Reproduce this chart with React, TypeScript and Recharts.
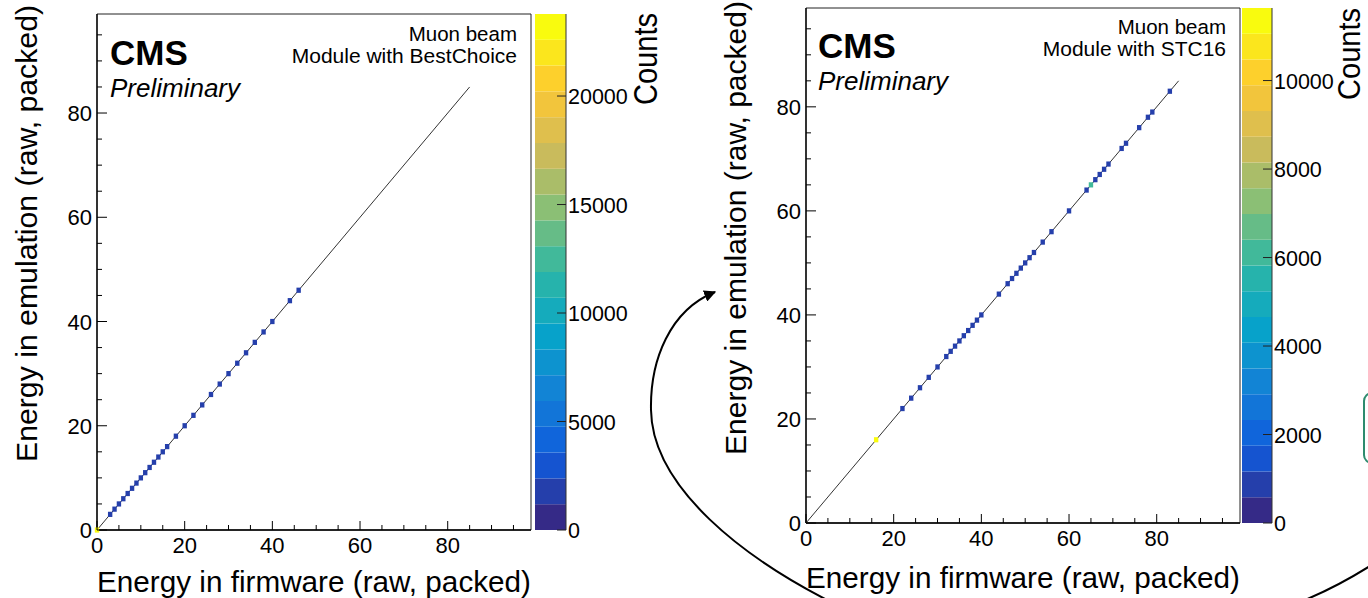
import React from 'react';
import { ScatterChart, Scatter, XAxis, YAxis, BarChart, Bar, ReferenceArea } from 'recharts';

const FONT = '"Liberation Sans", Arial, Helvetica, sans-serif';

// ---------- data ----------
// Left panel: module with BestChoice
const bcFirmware = [0, 3, 4, 5, 6, 7, 8, 9, 10, 11, 12, 13, 14, 15, 16, 18, 20, 22, 24, 26, 28, 30, 32, 34, 36, 38, 40, 44, 46];
const bcEmulation = [0, 3, 4, 5, 6, 7, 8, 9, 10, 11, 12, 13, 14, 15, 16, 18, 20, 22, 24, 26, 28, 30, 32, 34, 36, 38, 40, 44, 46];
const bcCounts = [23780, 1500, 1620, 1580, 1710, 1480, 1650, 1530, 1600, 1700, 1450, 1560, 1640, 1510, 1590, 1470, 1680, 1520, 1610, 1490, 1570, 1660, 1540, 1500, 1630, 1480, 1550, 1400, 1350];

// Right panel: module with STC16
const stcFirmware = [16, 22, 24, 26, 28, 30, 32, 33, 34, 35, 36, 37, 38, 39, 40, 44, 46, 47, 48, 49, 50, 51, 52, 54, 56, 60, 64, 65, 66, 67, 68, 69, 72, 73, 76, 78, 79, 83];
const stcEmulation = [16, 22, 24, 26, 28, 30, 32, 33, 34, 35, 36, 37, 38, 39, 40, 44, 46, 47, 48, 49, 50, 51, 52, 54, 56, 60, 64, 65, 66, 67, 68, 69, 72, 73, 76, 78, 79, 83];
const stcCounts = [11640, 880, 910, 860, 900, 940, 870, 920, 850, 890, 930, 860, 900, 880, 950, 870, 910, 890, 860, 920, 880, 900, 940, 870, 910, 890, 850, 6100, 900, 880, 920, 860, 890, 910, 870, 930, 880, 900];

// diagonal reference line
const diagFirmware = [0, 85];
const diagEmulation = [0, 85];

// ticks
const axisTicks = [0, 5, 10, 15, 20, 25, 30, 35, 40, 45, 50, 55, 60, 65, 70, 75, 80, 85, 90, 95];
const bcZTicks = [0, 5000, 10000, 15000, 20000];
const stcZTicks = [0, 2000, 4000, 6000, 8000, 10000];
const BC_ZMAX = 23780;
const STC_ZMAX = 11640;
const AXIS_MAX = 99;
const N_BANDS = 20;

// ROOT kBird palette
const BIRD_STOPS = [0.0, 0.125, 0.25, 0.375, 0.5, 0.625, 0.75, 0.875, 1.0];
const BIRD_R = [0.2082, 0.0592, 0.078, 0.0232, 0.1802, 0.5301, 0.8186, 0.9956, 0.9764];
const BIRD_G = [0.1664, 0.3599, 0.5041, 0.6419, 0.7178, 0.7492, 0.7328, 0.7862, 0.9832];
const BIRD_B = [0.5293, 0.8684, 0.8385, 0.7914, 0.6425, 0.4662, 0.3499, 0.1968, 0.0539];

function bird(t: number) {
  let k = 0;
  while (k < BIRD_STOPS.length - 2 && t > BIRD_STOPS[k + 1]) k++;
  const f = (t - BIRD_STOPS[k]) / (BIRD_STOPS[k + 1] - BIRD_STOPS[k]);
  const c = (a: number[]) => Math.round(255 * (a[k] + f * (a[k + 1] - a[k])));
  return `rgb(${c(BIRD_R)},${c(BIRD_G)},${c(BIRD_B)})`;
}
const BAND_COLORS = Array.from({ length: N_BANDS }, (_, i) => bird(i / (N_BANDS - 1)));
function countColor(c: number, zmax: number) {
  return BAND_COLORS[Math.min(N_BANDS - 1, Math.floor((c / zmax) * N_BANDS))];
}

// ---------- tick renderers ----------
function XTick(props: any) {
  const { x, y, payload } = props;
  const v = payload.value;
  const major = v % 20 === 0;
  return (
    <g>
      <line x1={x} x2={x} y1={y} y2={y - (major ? 9 : 5)} stroke="#000" strokeWidth={1} />
      {major && (
        <text x={x} y={y + 23} textAnchor="middle" fontSize={22} fontFamily={FONT} fill="#000">
          {v}
        </text>
      )}
    </g>
  );
}

function YTick(props: any) {
  const { x, y, payload } = props;
  const v = payload.value;
  const major = v % 20 === 0;
  return (
    <g>
      <line x1={x} x2={x + (major ? 10 : 5)} y1={y} y2={y} stroke="#000" strokeWidth={1} />
      {major && (
        <text x={x - 5} y={y + 8} textAnchor="end" fontSize={22} fontFamily={FONT} fill="#000">
          {v}
        </text>
      )}
    </g>
  );
}

function ZTick(props: any) {
  const { x, y, payload } = props;
  return (
    <g>
      <line x1={x - 9} x2={x} y1={y} y2={y} stroke="#222" strokeWidth={1} />
      <text x={x + 2} y={y + 8} textAnchor="start" fontSize={21.5} fontFamily={FONT} fill="#000">
        {payload.value}
      </text>
    </g>
  );
}

// ---------- panels ----------
type Layout = {
  chartLeft: number;
  chartWidth: number;
  yAxisWidth: number;
  marginTop: number;
  marginRight: number;
  xAxisHeight: number;
  barLeft: number;
  barWidth: number;
  barAreaWidth: number;
};

function Hist2D({ layout, xs, ys, counts, zmax }: { layout: Layout; xs: number[]; ys: number[]; counts: number[]; zmax: number }) {
  const H = 598;
  const plotW = layout.chartWidth - layout.yAxisWidth - layout.marginRight;
  const plotH = H - layout.marginTop - layout.xAxisHeight;
  const bw = plotW / AXIS_MAX;
  const bh = plotH / AXIS_MAX;
  const points = xs.map((x, i) => ({ x, y: ys[i], count: counts[i] }));
  const diag = diagFirmware.map((x, i) => ({ x, y: diagEmulation[i] }));
  const bins = (p: any) => (
    <rect x={p.cx - bw / 2} y={p.cy - bh / 2} width={bw} height={bh} fill={countColor(p.payload.count, zmax)} />
  );
  return (
    <div style={{ position: 'absolute', left: layout.chartLeft, top: 0 }}>
      <ScatterChart
        width={layout.chartWidth}
        height={H}
        margin={{ top: layout.marginTop, right: layout.marginRight, bottom: 0, left: 0 }}
      >
        <XAxis
          type="number"
          dataKey="x"
          domain={[0, AXIS_MAX]}
          ticks={axisTicks}
          interval={0}
          height={layout.xAxisHeight}
          tickSize={0}
          tickMargin={0}
          tickLine={false}
          tick={<XTick />}
          axisLine={{ stroke: '#000', strokeWidth: 1.3 }}
        />
        <YAxis
          type="number"
          dataKey="y"
          domain={[0, AXIS_MAX]}
          ticks={axisTicks}
          interval={0}
          width={layout.yAxisWidth}
          tickSize={0}
          tickMargin={0}
          tickLine={false}
          tick={<YTick />}
          axisLine={{ stroke: '#000', strokeWidth: 1.3 }}
        />
        <ReferenceArea x1={0} x2={AXIS_MAX} y1={0} y2={AXIS_MAX} fill="none" stroke="#222" strokeWidth={1} />
        <Scatter data={diag} line={{ stroke: '#333', strokeWidth: 1 }} shape={() => <g />} isAnimationActive={false} />
        <Scatter data={points} shape={bins} isAnimationActive={false} />
      </ScatterChart>
    </div>
  );
}

function ColorBar({ layout, zmax, zticks }: { layout: Layout; zmax: number; zticks: number[] }) {
  const row: any = { name: 'z' };
  BAND_COLORS.forEach((_, i) => {
    row[`b${i}`] = zmax / N_BANDS;
  });
  return (
    <div style={{ position: 'absolute', left: layout.barLeft, top: 0 }}>
      <BarChart
        width={layout.barAreaWidth}
        height={598}
        data={[row]}
        barCategoryGap={0}
        margin={{ top: layout.marginTop, right: 0, bottom: layout.xAxisHeight, left: 0 }}
      >
        <XAxis dataKey="name" hide />
        <YAxis
          orientation="right"
          type="number"
          domain={[0, zmax]}
          ticks={zticks}
          interval={0}
          width={layout.barAreaWidth - layout.barWidth}
          tickSize={0}
          tickMargin={0}
          tickLine={false}
          tick={<ZTick />}
          axisLine={{ stroke: '#333', strokeWidth: 1 }}
        />
        {BAND_COLORS.map((c, i) => (
          <Bar key={i} dataKey={`b${i}`} stackId="z" fill={c} isAnimationActive={false} />
        ))}
      </BarChart>
    </div>
  );
}

const leftLayout: Layout = {
  chartLeft: 0,
  chartWidth: 540,
  yAxisWidth: 97,
  marginTop: 14,
  marginRight: 9,
  xAxisHeight: 68,
  barLeft: 535,
  barWidth: 31,
  barAreaWidth: 120,
};
const rightLayout: Layout = {
  chartLeft: 700,
  chartWidth: 549,
  yAxisWidth: 106,
  marginTop: 8,
  marginRight: 9,
  xAxisHeight: 75,
  barLeft: 1242,
  barWidth: 30,
  barAreaWidth: 126,
};

function Overlay() {
  const t = { fontFamily: FONT, fill: '#000' } as const;
  return (
    <svg width={1368} height={598} style={{ position: 'absolute', left: 0, top: 0, pointerEvents: 'none' }}>
      <defs>
        <marker id="ah" viewBox="0 0 10 10" refX="9" refY="5" markerWidth="6" markerHeight="6" orient="auto-start-reverse">
          <path d="M0,0 L10,5 L0,10 z" fill="#000" />
        </marker>
      </defs>
      {/* left panel texts */}
      <text {...t} x={531} y={592} textAnchor="end" fontSize={30} textLength={434} lengthAdjust="spacingAndGlyphs">Energy in firmware (raw, packed)</text>
      <text {...t} transform="translate(37,5) rotate(-90)" textAnchor="end" fontSize={30} textLength={457} lengthAdjust="spacingAndGlyphs">Energy in emulation (raw, packed)</text>
      <text {...t} x={110} y={65} fontSize={35} fontWeight="bold">CMS</text>
      <text {...t} x={110} y={97} fontSize={26} fontStyle="italic">Preliminary</text>
      <text {...t} x={517} y={41} fontSize={20.5} textAnchor="end">Muon beam</text>
      <text {...t} x={517} y={63} fontSize={21} textAnchor="end">Module with BestChoice</text>
      <text {...t} transform="translate(657,13) rotate(-90) scale(1,1.1)" textAnchor="end" fontSize={30} textLength={92} lengthAdjust="spacingAndGlyphs">Counts</text>

      {/* right panel texts */}
      <text {...t} x={1240} y={588} textAnchor="end" fontSize={30} textLength={434} lengthAdjust="spacingAndGlyphs">Energy in firmware (raw, packed)</text>
      <text {...t} transform="translate(746,1) rotate(-90)" textAnchor="end" fontSize={30} textLength={454} lengthAdjust="spacingAndGlyphs">Energy in emulation (raw, packed)</text>
      <text {...t} x={818} y={58} fontSize={35} fontWeight="bold">CMS</text>
      <text {...t} x={818} y={90} fontSize={26} fontStyle="italic">Preliminary</text>
      <text {...t} x={1226} y={34} fontSize={20.5} textAnchor="end">Muon beam</text>
      <text {...t} x={1226} y={56} fontSize={21} textAnchor="end">Module with STC16</text>
      <text {...t} transform="translate(1360,8) rotate(-90) scale(1,1.05)" textAnchor="end" fontSize={29} textLength={92} lengthAdjust="spacingAndGlyphs">Counts</text>

      {/* annotation strokes */}
      <path
        d="M 715 292 C 670 310, 650 360, 651 410 C 652 480, 730 560, 880 625"
        fill="none"
        stroke="#000"
        strokeWidth={2}
        markerStart="url(#ah)"
      />
      <path d="M 1300 602 Q 1335 588 1370 566" fill="none" stroke="#000" strokeWidth={2} />
      <rect x={1364} y={393} width={40} height={70} rx={8} fill="none" stroke="#2e8b6e" strokeWidth={2} />
    </svg>
  );
}

export default function App() {
  return (
    <div style={{ position: 'absolute', left: 0, top: 0, width: 1368, height: 598, background: '#fff', overflow: 'hidden' }}>
      <Hist2D layout={leftLayout} xs={bcFirmware} ys={bcEmulation} counts={bcCounts} zmax={BC_ZMAX} />
      <ColorBar layout={leftLayout} zmax={BC_ZMAX} zticks={bcZTicks} />
      <Hist2D layout={rightLayout} xs={stcFirmware} ys={stcEmulation} counts={stcCounts} zmax={STC_ZMAX} />
      <ColorBar layout={rightLayout} zmax={STC_ZMAX} zticks={stcZTicks} />
      <Overlay />
    </div>
  );
}
